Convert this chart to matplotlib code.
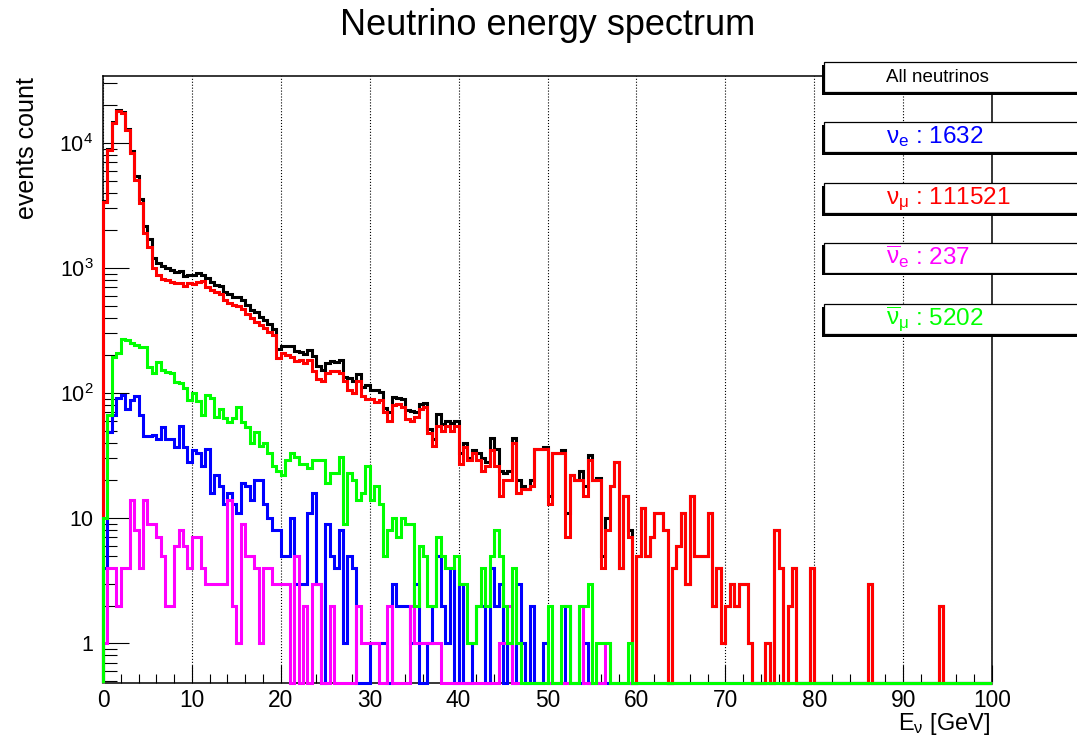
import numpy as np
import matplotlib.pyplot as plt
from matplotlib.patches import Rectangle
from matplotlib.ticker import FixedLocator, FixedFormatter, LogLocator, NullFormatter, MultipleLocator

plt.rcParams['font.family'] = ['Liberation Sans', 'DejaVu Sans']
plt.rcParams['mathtext.fontset'] = 'custom'
plt.rcParams['mathtext.rm'] = 'Liberation Sans'
plt.rcParams['mathtext.it'] = 'Liberation Sans'
plt.rcParams['mathtext.bf'] = 'Liberation Sans:bold'
plt.rcParams['mathtext.default'] = 'regular'

# 200 bins of 0.5 GeV from 0 to 100 GeV, counts
e_low, e_high, n_bins = 0, 100, 200

nu_mu = [
    3400, 8800, 14400, 18100, 17300, 12700, 8300, 5100, 3300, 1900,
    1480, 1010, 880, 820, 800, 780, 760, 760, 720, 760,
    740, 780, 790, 700, 670, 640, 620, 560, 530, 510,
    500, 470, 430, 400, 370, 350, 330, 310, 290, 190,
    210, 200, 195, 180, 185, 175, 185, 150, 130, 125,
    145, 150, 150, 145, 125, 105, 100, 125, 95, 90,
    90, 85, 88, 70, 60, 80, 82, 78, 62, 60,
    65, 75, 78, 48, 38, 55, 50, 55, 50, 55,
    27, 37, 29, 33, 29, 24, 26, 35, 26, 15,
    20, 20, 40, 16, 17, 17, 18, 36, 36, 36,
    13, 33, 33, 33, 7, 22, 20, 20, 15, 29,
    20, 20, 4, 8, 18, 28, 4, 15, 7, 0,
    5, 12, 5, 7, 11, 11, 8, 0, 4, 6,
    11, 3, 15, 5, 5, 5, 11, 2, 4, 1,
    2, 3, 2, 3, 3, 1, 0, 0, 0, 1,
    0, 8, 4, 0, 2, 4, 0, 0, 0, 4,
    0, 0, 0, 0, 0, 0, 0, 0, 0, 0,
    0, 0, 3, 0, 0, 0, 0, 0, 0, 0,
    0, 0, 0, 0, 0, 0, 0, 0, 2, 0,
    0, 0, 0, 0, 0, 0, 0, 0, 0, 0,
]

nubar_mu = [
    10, 67, 195, 210, 270, 265, 250, 242, 232, 232,
    162, 144, 178, 153, 148, 144, 123, 120, 109, 88,
    100, 86, 67, 97, 92, 65, 75, 63, 59, 63,
    78, 59, 54, 40, 49, 38, 40, 33, 26, 24,
    22, 29, 33, 31, 27, 27, 25, 29, 29, 29,
    19, 23, 23, 31, 9, 23, 20, 14, 16, 26,
    14, 18, 13, 5, 8, 10, 7, 10, 9, 9,
    2, 6, 5, 2, 2, 7, 5, 4, 4, 5,
    3, 3, 1, 1, 2, 4, 2, 5, 8, 5,
    2, 1, 4, 1, 0, 0, 0, 0, 0, 0,
    2, 0, 0, 2, 2, 0, 0, 2, 2, 3,
    0, 1, 1, 1, 0, 0, 0, 0, 1, 0,
] + [0] * 80

nu_e = [
    4, 49, 67, 91, 96, 75, 88, 94, 67, 45,
    45, 46, 43, 54, 43, 43, 37, 55, 37, 28,
    35, 33, 26, 36, 16, 22, 18, 13, 16, 13,
    11, 19, 18, 14, 20, 20, 13, 10, 8, 8,
    5, 5, 10, 3, 3, 3, 11, 16, 3, 0,
    9, 5, 4, 8, 1, 5, 4, 0, 0, 0,
    1, 1, 1, 1, 0, 3, 2, 2, 2, 1,
    3, 0, 0, 1, 2, 5, 2, 1, 4, 0,
    3, 0, 0, 1, 2, 2, 0, 4, 2, 3,
    0, 1, 0, 3, 1, 0, 2, 0, 0, 1,
    0, 0, 0, 0, 2, 0, 0, 0, 1, 0,
] + [0] * 90

nubar_e = [
    1, 4, 4, 2, 4, 4, 14, 8, 4, 14,
    9, 9, 7, 5, 2, 2, 6, 8, 6, 4,
    7, 7, 4, 3, 3, 3, 3, 3, 14, 2,
    1, 9, 5, 5, 4, 1, 4, 4, 3, 3,
    3, 3, 0, 5, 0, 2, 0, 3, 3, 0,
    0, 2, 0, 0, 0, 0, 0, 2, 1, 1,
    1, 1, 0, 0, 2, 0, 0, 0, 0, 2,
    1, 1, 1, 1, 1, 1, 0, 0, 0, 0,
    0, 0, 0, 0, 0, 0, 0, 0, 0, 1,
    1, 2, 0, 0, 0, 0, 0, 0, 0, 0,
    0, 0, 0, 0, 0, 0, 0, 2, 0, 0,
    0, 0, 0, 1, 0, 0, 0, 0, 0, 0,
] + [0] * 80

legend_labels = [r'$\nu_{e}$ : 1632', r'$\nu_{\mu}$ : 111521',
                 r'$\overline{\nu}_{e}$ : 237', r'$\overline{\nu}_{\mu}$ : 5202']

y_low, y_high = 0.48, 3.44e4

edges = np.linspace(e_low, e_high, n_bins + 1)
h_e = np.array(nu_e, dtype=float)
h_mu = np.array(nu_mu, dtype=float)
hb_e = np.array(nubar_e, dtype=float)
hb_mu = np.array(nubar_mu, dtype=float)
h_all = h_e + h_mu + hb_e + hb_mu

W, H = 1077, 738
fig = plt.figure(figsize=(W / 100, H / 100), dpi=100)
ax = fig.add_axes([103 / W, 1 - 683 / H, (992 - 103) / W, (683 - 76) / H])


def draw(h, color, z):
    # empty bins sit on the bottom frame like in ROOT
    ax.stairs(np.where(h > 0, h, y_low), edges, baseline=y_low, color=color,
              lw=2.2, zorder=z, clip_on=False)


draw(h_all, 'black', 3)
draw(h_e, '#0000ff', 4)
draw(h_mu, '#ff0000', 5)
draw(hb_e, '#ff00ff', 6)
draw(hb_mu, '#00ff00', 7)

ax.set_yscale('log')
ax.set_xlim(e_low, e_high)
ax.set_ylim(y_low, y_high)

ax.xaxis.set_major_locator(MultipleLocator(10))
ax.xaxis.set_minor_locator(MultipleLocator(2))
ax.yaxis.set_major_locator(FixedLocator([1, 10, 100, 1000, 10000]))
ax.yaxis.set_major_formatter(FixedFormatter(['1', '10', '$10^{2}$', '$10^{3}$', '$10^{4}$']))
ax.yaxis.set_minor_locator(LogLocator(base=10, subs=np.arange(2, 10)))
ax.yaxis.set_minor_formatter(NullFormatter())

ax.tick_params(axis='x', which='major', direction='in', length=13, width=0.8,
               labelsize=16.4, pad=4)
ax.tick_params(axis='x', which='minor', direction='in', length=6.5, width=0.8)
ax.tick_params(axis='y', which='major', direction='in', length=18.5, width=0.8,
               labelsize=15.5, pad=7)
ax.tick_params(axis='y', which='minor', direction='in', length=10, width=0.8)

ax.grid(True, axis='x', which='major', linestyle=':', color='black', lw=0.8)
ax.set_axisbelow(True)
for s in ax.spines.values():
    s.set_linewidth(1.1)

fig.text(547.5 / W, 1 - 35 / H, 'Neutrino energy spectrum', ha='center',
         va='baseline', fontsize=26)
fig.text(27.5 / W, 1 - 77 / H, 'events count', rotation=90, ha='center',
         va='top', fontsize=18)
fig.text(990 / W, 1 - 730 / H, r'$E_{\nu}$ [GeV]', ha='right', va='baseline',
         fontsize=17)

# legend boxes on the right, partly outside the figure
box_tops = [62, 122, 183, 243, 304]
box_h = 30
box_texts = ['All neutrinos'] + legend_labels
box_colors = ['black', '#0000ff', '#ff0000', '#ff00ff', '#00ff00']
box_sizes = [13.5, 17.5, 17.5, 17.5, 17.5]
for top, txt, col, fs in zip(box_tops, box_texts, box_colors, box_sizes):
    x0, y0 = 824 / W, 1 - (top + box_h) / H
    fig.add_artist(Rectangle((x0 - 2.5 / W, y0 - 2.5 / H), 300 / W, box_h / H,
                             transform=fig.transFigure, facecolor='black',
                             edgecolor='none', zorder=10))
    fig.add_artist(Rectangle((x0, y0), 300 / W, box_h / H,
                             transform=fig.transFigure, facecolor='white',
                             edgecolor='black', lw=0.9, zorder=11))
    base = top + (20 if fs < 15 else 21)
    fig.text(886 / W, 1 - base / H, txt, ha='left', va='baseline',
             color=col, fontsize=fs, zorder=12)

fig.savefig('out.png', dpi=100)
